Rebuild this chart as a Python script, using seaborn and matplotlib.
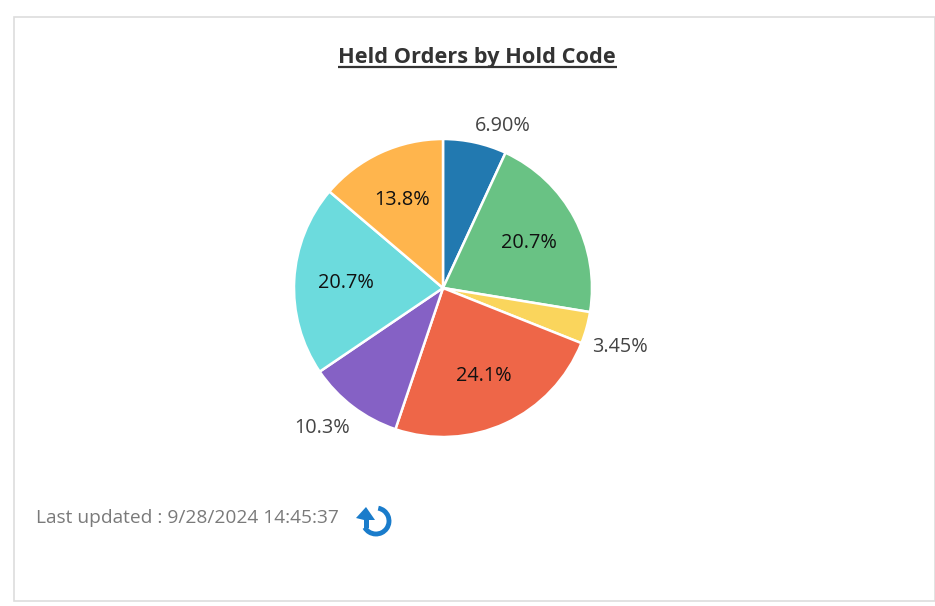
import numpy as np
import matplotlib
matplotlib.use("Agg")
import matplotlib.pyplot as plt
from matplotlib.patches import Arc, Polygon, Rectangle
import seaborn as sns

# data
hold_codes = ["A", "B", "C", "D", "E", "F", "G"]
order_counts = [2, 6, 1, 7, 3, 6, 4]
pct_labels = ["6.90%", "20.7%", "3.45%", "24.1%", "10.3%", "20.7%", "13.8%"]
slice_colors = ["#2279B0", "#69C284", "#FAD55C", "#EE6648", "#8561C5", "#6CDBDD", "#FFB54D"]
title_text = "Held Orders by Hold Code"
updated_text = "Last updated : 9/28/2024 14:45:37"

# label placement, radius as share of pie radius, small slices go outside
label_dist = [1.16, 0.65, 1.25, 0.65, 1.24, 0.65, 0.65]
label_shift = [8, 0, 3, 0, 3.5, 0, 0]  # degrees
label_color = ["#444444", "#111111", "#444444", "#111111", "#444444", "#111111", "#111111"]

sns.set_theme(style="white")
plt.rcParams["font.family"] = ["Open Sans", "DejaVu Sans"]

W, H = 935, 606
fig = plt.figure(figsize=(W / 100, H / 100), dpi=100, facecolor="white")

# overlay in pixel coords for card, title and footer
bg = fig.add_axes([0, 0, 1, 1])
bg.set_xlim(0, W)
bg.set_ylim(H, 0)
bg.axis("off")
bg.add_patch(Rectangle((13.5, 16.5), 921, 584, fc="white", ec="#DDDDDD", lw=1.2))

bg.text(477, 57, title_text, ha="center", va="center", fontsize=15.7,
        fontweight="bold", color="#333333")
bg.plot([338, 617], [66.5, 66.5], color="#333333", lw=1.6, solid_capstyle="butt")
bg.text(36, 518, updated_text, ha="left", va="center", fontsize=13.8, color="#7A7A7A")

# refresh icon
icon_blue = "#1A7CCB"
bg.add_patch(Arc((376, 521), 26, 26, theta1=-80, theta2=150, color=icon_blue, lw=3.5))
bg.add_patch(Polygon([(356, 518), (366, 507), (375, 520), (369, 520), (369, 528), (364, 528), (364, 520)],
                     closed=True, fc=icon_blue, ec="none"))

# pie, radius 149 px around (443, 288)
cx, cy, r = 443, 288, 149
ax = fig.add_axes([(cx - r) / W, 1 - (cy + r) / H, 2 * r / W, 2 * r / H])
ax.patch.set_alpha(0)
wedges, _ = ax.pie(order_counts, colors=slice_colors, startangle=90, counterclock=False,
                   radius=1, wedgeprops={"edgecolor": "white", "linewidth": 1.8})
ax.set_xlim(-1, 1)
ax.set_ylim(-1, 1)
for w in wedges:
    w.set_clip_on(False)

for w, lab, d, s, c in zip(wedges, pct_labels, label_dist, label_shift, label_color):
    a = np.deg2rad((w.theta1 + w.theta2) / 2 - s)
    ax.text(d * np.cos(a), d * np.sin(a), lab, ha="center", va="center", fontsize=14.3,
            color=c, clip_on=False)

fig.savefig("out.png", dpi=100)
